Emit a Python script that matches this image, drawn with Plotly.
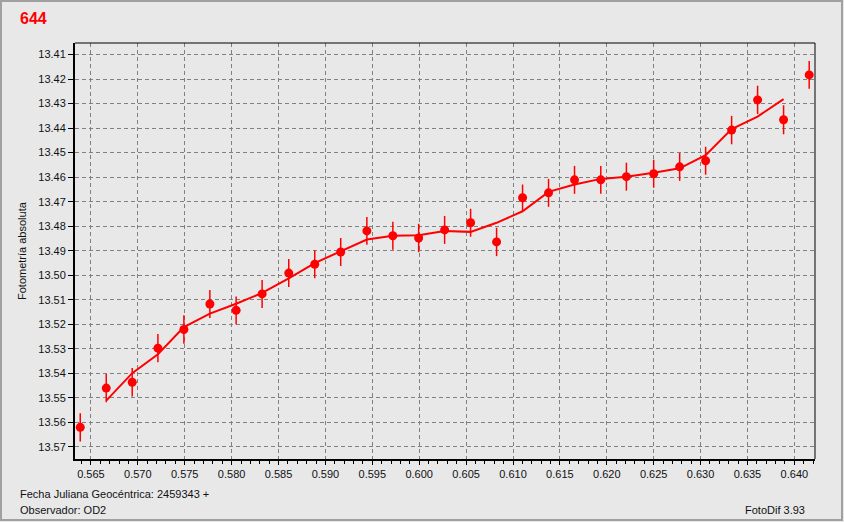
import plotly.graph_objects as go

# ---- data ----
jd = [0.56386, 0.56663, 0.56940, 0.57214, 0.57491, 0.57768, 0.58048, 0.58325,
      0.58609, 0.58886, 0.59163, 0.59442, 0.59719, 0.59994, 0.60271, 0.60548,
      0.60825, 0.61102, 0.61379, 0.61656, 0.61936, 0.62209, 0.62500, 0.62777,
      0.63054, 0.63331, 0.63608, 0.63885, 0.64158]
mag = [13.5620, 13.5460, 13.5436, 13.5297, 13.5221, 13.5117, 13.5143, 13.5076,
       13.4991, 13.4955, 13.4905, 13.4819, 13.4839, 13.4848, 13.4815, 13.4786,
       13.4864, 13.4684, 13.4664, 13.4611, 13.4611, 13.4598, 13.4586, 13.4558,
       13.4533, 13.4408, 13.4285, 13.4366, 13.4183]
err = [0.0058, 0.0058, 0.0058, 0.0058, 0.0058, 0.0057, 0.0057, 0.0057,
       0.0057, 0.0057, 0.0057, 0.0057, 0.0057, 0.0058, 0.0057, 0.0057,
       0.0058, 0.0054, 0.0057, 0.0057, 0.0057, 0.0057, 0.0057, 0.0057,
       0.0057, 0.0058, 0.0058, 0.0059, 0.0057]
fit_jd = jd[1:28]
fit_mag = [13.5511, 13.5399, 13.5322, 13.5211, 13.5156, 13.5116, 13.5072, 13.5013,
           13.4950, 13.4903, 13.4854, 13.4839, 13.4837, 13.4819, 13.4823, 13.4786,
           13.4739, 13.4660, 13.4630, 13.4607, 13.4598, 13.4582, 13.4564, 13.4510,
           13.4404, 13.4353, 13.4282]

title_text = "644"
ylabel = "Fotometría absoluta"
xlabel = "Fecha Juliana Geocéntrica: 2459343 +"
observer = "Observador: OD2"
software = "FotoDif 3.93"

W, H = 844, 522
L, R, T, B = 75, 29, 43, 63
PW, PH = W - L - R, H - T - B


def px(xp):
    return (xp - L) / PW


def py(yp):
    return (H - B - yp) / PH


BG = "#e8e8e9"
FONT = "Liberation Sans, Arial, sans-serif"

fig = go.Figure()
fig.add_trace(go.Scatter(
    x=fit_jd, y=fit_mag, mode="lines",
    line=dict(color="#ff0000", width=2), hoverinfo="skip", showlegend=False))
fig.add_trace(go.Scatter(
    x=jd, y=mag, mode="markers",
    marker=dict(color="#ff0000", size=9, symbol="circle"),
    error_y=dict(type="data", array=err, color="#ff0000", thickness=1.5, width=0),
    showlegend=False))

fig.update_layout(
    width=W, height=H,
    margin=dict(l=L, r=R, t=T, b=B, pad=0),
    paper_bgcolor=BG, plot_bgcolor=BG,
    font=dict(family=FONT, size=11, color="#111111"),
    showlegend=False,
    xaxis=dict(
        range=[0.5633, 0.6422], tick0=0.565, dtick=0.005, tickformat=".3f",
        showgrid=True, gridcolor="#808080", gridwidth=1, griddash="4px,3px",
        zeroline=False, showline=True, linecolor="#000000", linewidth=2,
        ticks="outside", ticklen=4, tickcolor="#000000", tickwidth=1,
        minor=dict(dtick=0.001, tick0=0.565, ticks="outside", ticklen=3,
                   tickcolor="#000000", showgrid=False),
        tickfont=dict(family=FONT, size=11, color="#111111"),
    ),
    yaxis=dict(
        range=[13.5749, 13.4053], tick0=13.41, dtick=0.01, tickformat=".2f",
        showgrid=True, gridcolor="#808080", gridwidth=1, griddash="4px,3px",
        zeroline=False, showline=True, linecolor="#000000", linewidth=2,
        ticks="outside", ticklen=5, tickcolor="#000000", tickwidth=1,
        tickfont=dict(family=FONT, size=11, color="#111111"),
    ),
    shapes=[
        dict(type="line", xref="paper", yref="paper", x0=0, x1=1, y0=1, y1=1,
             line=dict(color="#000000", width=1)),
        dict(type="line", xref="paper", yref="paper", x0=1, x1=1, y0=0, y1=1,
             line=dict(color="#000000", width=1)),
        dict(type="rect", xref="paper", yref="paper",
             x0=px(1), x1=px(842), y0=py(1), y1=py(520),
             line=dict(color="#a0a0a0", width=2), layer="below"),
    ],
    annotations=[
        dict(text="<b>" + title_text + "</b>", xref="paper", yref="paper",
             x=px(18), y=py(18), xanchor="left", yanchor="middle",
             showarrow=False, font=dict(family=FONT, size=16, color="#ff0000")),
        dict(text=ylabel, xref="paper", yref="paper", x=px(22), y=py(251),
             xanchor="center", yanchor="middle", textangle=-90,
             showarrow=False, font=dict(family=FONT, size=11, color="#111111")),
        dict(text=xlabel, xref="paper", yref="paper", x=px(18), y=py(494),
             xanchor="left", yanchor="middle", showarrow=False,
             font=dict(family=FONT, size=11, color="#111111")),
        dict(text=observer, xref="paper", yref="paper", x=px(18), y=py(510),
             xanchor="left", yanchor="middle", showarrow=False,
             font=dict(family=FONT, size=11, color="#111111")),
        dict(text=software, xref="paper", yref="paper", x=px(807), y=py(510),
             xanchor="right", yanchor="middle", showarrow=False,
             font=dict(family=FONT, size=11, color="#111111")),
    ],
)

fig.write_html("out.html",
               config={"displayModeBar": False},
               post_script="document.body.style.margin='0';document.body.style.padding='0';")
